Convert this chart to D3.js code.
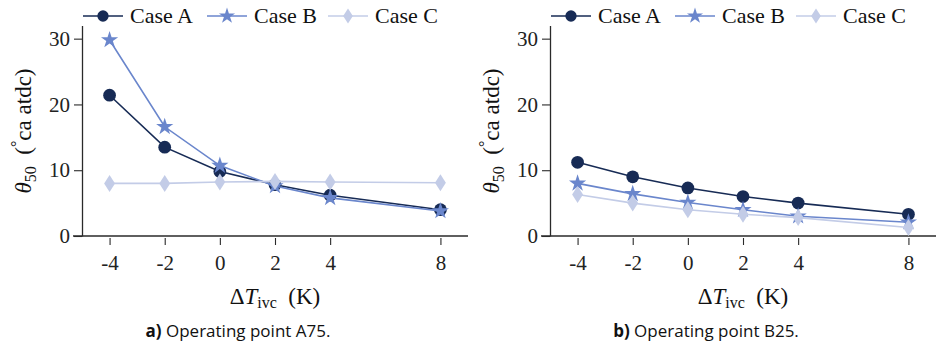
<!DOCTYPE html>
<html><head><meta charset="utf-8">
<script src="https://cdn.jsdelivr.net/npm/d3@7"></script>
<style>
html,body{margin:0;padding:0;background:#fff;}
svg{display:block;}
.serif{font-family:"Liberation Serif","Times New Roman","DejaVu Serif","Noto Serif",Times,serif;}
.sans{font-family:"Open Sans","Noto Sans",sans-serif;}
</style></head>
<body>
<svg id="chart" width="936" height="348"></svg>
<script>
// ---- data ----
const dT = [-4, -2, 0, 2, 4, 8];
const xTickLabels = ["-4", "-2", "0", "2", "4", "8"];
const yTicks = [0, 10, 20, 30];
const seriesNames = ["Case A", "Case B", "Case C"];
const seriesColors = ["#172b55", "#6a86cc", "#c3cce7"];
const seriesMarkers = ["circle", "star", "diamond"];
// panel a) Operating point A75
const a75_caseA = [21.4, 13.5, 9.8, 7.8, 6.2, 4.0];
const a75_caseB = [29.8, 16.6, 10.7, 7.6, 5.8, 3.8];
const a75_caseC = [8.0, 8.0, 8.2, 8.3, 8.2, 8.1];
// panel b) Operating point B25
const b25_caseA = [11.2, 9.0, 7.3, 6.0, 5.0, 3.3];
const b25_caseB = [8.0, 6.4, 5.1, 4.0, 3.0, 2.1];
const b25_caseC = [6.3, 5.0, 4.0, 3.3, 2.8, 1.3];
const captionLetters = ["a)", "b)"];
const captionTexts = [" Operating point A75.", " Operating point B25."];

const panels = [
  {series: [a75_caseA, a75_caseB, a75_caseC]},
  {series: [b25_caseA, b25_caseB, b25_caseC]}
];

const svg = d3.select("#chart");
const axisColor = "#2a2a2a";

const thinDiamond = {
  draw(ctx, size) {
    const h = Math.sqrt(size) * 0.85, w = h * 0.64;
    ctx.moveTo(0, -h); ctx.lineTo(w, 0); ctx.lineTo(0, h); ctx.lineTo(-w, 0); ctx.closePath();
  }
};
function symbolFor(kind, legend) {
  if (kind === "circle") return d3.symbol(d3.symbolCircle, legend ? 100 : 128)();
  if (kind === "star") return d3.symbol(d3.symbolStar, legend ? 80 : 92)();
  return d3.symbol(thinDiamond, legend ? 80 : 100)();
}

panels.forEach((p, i) => {
  const ox = i * 468;
  const g = svg.append("g").attr("transform", `translate(${ox},0)`);
  const x = d3.scaleLinear().domain([-5, 9]).range([82, 468]);
  const y = d3.scaleLinear().domain([0, 32]).range([236, 25.5]);

  // horizontal zero line
  g.append("line")
    .attr("x1", x.range()[0] - 9).attr("x2", x.range()[1])
    .attr("y1", y(0)).attr("y2", y(0))
    .attr("stroke", axisColor).attr("stroke-width", 1.3);

  // y axis
  const ya = g.append("g").attr("transform", `translate(${x.range()[0]},0)`)
    .call(d3.axisLeft(y).tickValues(yTicks).tickSize(8).tickSizeOuter(0).tickPadding(4));
  ya.attr("font-family", null).attr("font-size", null);
  ya.select(".domain").attr("stroke", axisColor).attr("stroke-width", 1.3);
  ya.selectAll(".tick line").attr("stroke", axisColor).attr("stroke-width", 1.1);
  ya.selectAll(".tick text").attr("class", "serif").style("font-size", "21px").attr("fill", "#222");

  // x axis
  const xa = g.append("g").attr("transform", `translate(0,${y(0) + 2})`)
    .call(d3.axisBottom(x).tickValues(dT).tickFormat((d, k) => xTickLabels[k]).tickSize(7).tickPadding(10));
  xa.attr("font-family", null).attr("font-size", null);
  xa.select(".domain").remove();
  xa.selectAll(".tick line").attr("stroke", axisColor).attr("stroke-width", 1.1);
  xa.selectAll(".tick text").attr("class", "serif").style("font-size", "21px").attr("fill", "#222");

  // lines + markers
  const line = d3.line().x((d, k) => x(dT[k])).y(d => y(d));
  p.series.forEach((vals, s) => {
    const sg = g.append("g");
    sg.append("path").datum(vals).attr("d", line)
      .attr("fill", "none").attr("stroke", seriesColors[s]).attr("stroke-width", 1.6);
    sg.selectAll("path.m").data(vals).enter().append("path").attr("class", "m")
      .attr("transform", (d, k) => `translate(${x(dT[k])},${y(d)})`)
      .attr("d", symbolFor(seriesMarkers[s], false))
      .attr("fill", seriesColors[s]);
  });

  // legend
  const legX = [83, 207, 328];
  seriesNames.forEach((n, s) => {
    const lg = g.append("g").attr("transform", `translate(${legX[s]},16)`);
    lg.append("line").attr("x1", 0).attr("x2", 40).attr("y1", 0).attr("y2", 0)
      .attr("stroke", seriesColors[s]).attr("stroke-width", 1.6);
    lg.append("path").attr("transform", "translate(20,0)").attr("d", symbolFor(seriesMarkers[s], true))
      .attr("fill", seriesColors[s]);
    lg.append("text").attr("class", "serif").attr("x", 47).attr("y", 7).style("font-size", "22px")
      .attr("fill", "#111").text(n);
  });

  // y label
  const yl = g.append("text").attr("class", "serif").attr("transform", "translate(31,131) rotate(-90)")
    .attr("text-anchor", "middle").style("font-size", "23px").attr("fill", "#111");
  yl.append("tspan").attr("font-style", "italic").text("θ");
  yl.append("tspan").style("font-size", "16px").attr("dy", 5).text("50");
  yl.append("tspan").attr("dy", -5).text("\u2002(");
  yl.append("tspan").style("font-size", "16px").attr("dy", -9).text("°");
  yl.append("tspan").attr("dy", 9).text("ca atdc)");

  // x label
  const xl = g.append("text").attr("class", "serif").attr("x", 275).attr("y", 304)
    .attr("text-anchor", "middle").style("font-size", "23px").attr("fill", "#111");
  xl.append("tspan").text("Δ");
  xl.append("tspan").attr("font-style", "italic").text("T");
  xl.append("tspan").style("font-size", "16px").attr("dy", 4).text("ivc");
  xl.append("tspan").attr("dy", -4).text("\u2002(K)");

  // caption
  const cap = g.append("text").attr("class", "sans").attr("x", 238).attr("y", 337)
    .attr("text-anchor", "middle").style("font-size", "17px").attr("fill", "#111");
  cap.append("tspan").attr("font-weight", "bold").text(captionLetters[i]);
  cap.append("tspan").text(captionTexts[i]);
});
</script>
</body></html>
